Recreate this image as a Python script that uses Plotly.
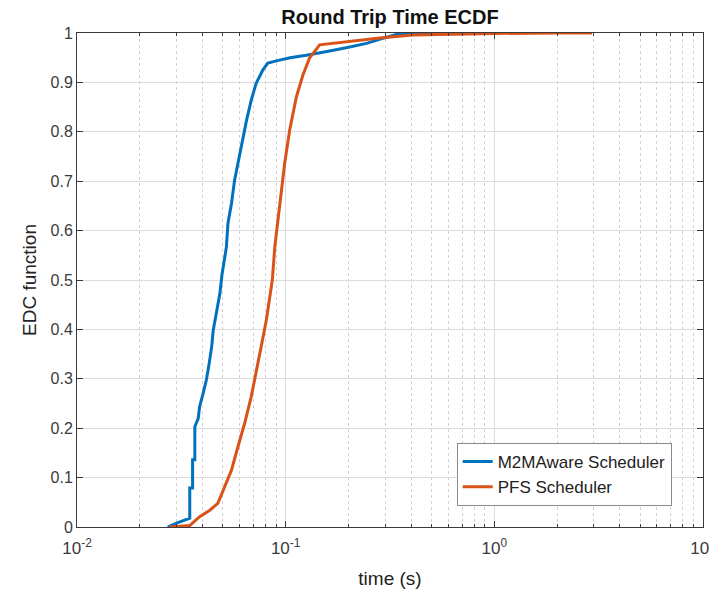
import plotly.graph_objects as go

# ---- data ----
m2m_time = [0.0272, 0.0300, 0.0347, 0.0347, 0.0358, 0.0358, 0.0367, 0.0367, 0.0381,
            0.0387, 0.0402, 0.0417, 0.0430, 0.0442, 0.0450, 0.0467, 0.0484, 0.0495,
            0.0510, 0.0520, 0.0529, 0.0550, 0.0569, 0.0591, 0.0614, 0.0650, 0.0684,
            0.0722, 0.0777, 0.0821, 0.0935, 0.1050, 0.1256, 0.1350, 0.1600, 0.1950,
            0.2440, 0.2920, 0.3390, 0.5000, 1.0000]
m2m_ecdf = [0.000, 0.008, 0.018, 0.079, 0.079, 0.136, 0.136, 0.203, 0.220,
            0.244, 0.270, 0.298, 0.331, 0.365, 0.399, 0.433, 0.473, 0.510,
            0.540, 0.567, 0.615, 0.655, 0.702, 0.736, 0.777, 0.824, 0.864,
            0.898, 0.925, 0.939, 0.945, 0.950, 0.955, 0.957, 0.963, 0.970,
            0.979, 0.989, 0.997, 0.999, 1.000]

pfs_time = [0.0278, 0.0347, 0.0387, 0.0433, 0.0473, 0.0510, 0.0550, 0.0591, 0.0636,
            0.0684, 0.0722, 0.0763, 0.0808, 0.0838, 0.0863, 0.0887, 0.0935, 0.0989,
            0.1046, 0.1080, 0.1126, 0.1210, 0.1300, 0.1455, 0.1600, 0.1950, 0.2820,
            0.4050, 0.7000, 1.0000, 2.0000, 2.9400]
pfs_ecdf = [0.000, 0.003, 0.021, 0.034, 0.048, 0.082, 0.115, 0.163, 0.210,
            0.264, 0.311, 0.365, 0.419, 0.466, 0.500, 0.567, 0.655, 0.736,
            0.804, 0.835, 0.871, 0.915, 0.949, 0.976, 0.978, 0.981, 0.990,
            0.996, 0.998, 0.999, 1.000, 1.000]

series_names = ["M2MAware Scheduler", "PFS Scheduler"]
series_colors = ["#0072BD", "#D95319"]
x_ticks = [0.01, 0.1, 1, 10]
x_tick_labels = ["10<sup>-2</sup>", "10<sup>-1</sup>", "10<sup>0</sup>", "10<sup>1</sup>"]
x_minor_ticks = [m * d for d in (0.01, 0.1, 1) for m in range(2, 10)]
y_ticks = [0, 0.1, 0.2, 0.3, 0.4, 0.5, 0.6, 0.7, 0.8, 0.9, 1]
y_tick_labels = ["0", "0.1", "0.2", "0.3", "0.4", "0.5", "0.6", "0.7", "0.8", "0.9", "1"]

FONT = "Liberation Sans, Arial, sans-serif"
AX = "#3a3a3a"

fig = go.Figure()
fig.add_trace(go.Scatter(x=m2m_time, y=m2m_ecdf, mode="lines", name=series_names[0],
                         line=dict(color=series_colors[0], width=3)))
fig.add_trace(go.Scatter(x=pfs_time, y=pfs_ecdf, mode="lines", name=series_names[1],
                         line=dict(color=series_colors[1], width=3)))

# page body adds an 8px offset, so the figure is 8px smaller than the window
fig.update_layout(
    width=709, height=592,
    margin=dict(l=69, r=14, t=25, b=73, autoexpand=False),
    paper_bgcolor="white", plot_bgcolor="white",
    font=dict(family=FONT, size=16, color=AX),
    title=dict(text="<b>Round Trip Time ECDF</b>", x=0.5, xref="paper", xanchor="center",
               y=1 - 9 / 592, yref="container", yanchor="middle",
               font=dict(family=FONT, size=20, color="#111")),
    legend=dict(x=0.95, y=0.0425, xanchor="right", yanchor="bottom",
                bgcolor="white", bordercolor="#8a8a8a", borderwidth=1,
                font=dict(family=FONT, size=17, color="#222")),
    showlegend=True,
)

fig.update_xaxes(
    type="log", range=[-2, 1], tickvals=x_ticks, ticktext=x_tick_labels,
    showline=True, linecolor=AX, linewidth=1, mirror="allticks",
    ticks="inside", ticklen=6, tickcolor=AX,
    showgrid=True, gridcolor="#dcdcdc", gridwidth=1,
    minor=dict(tickvals=x_minor_ticks, ticks="inside", ticklen=3, tickcolor=AX,
               showgrid=True, gridcolor="#d0d0d0", griddash="dot"),
    zeroline=False, automargin=False, ticklabelstandoff=6,
    title=dict(text="time (s)", font=dict(family=FONT, size=19, color="#222"), standoff=14),
    tickfont=dict(family=FONT, size=17, color=AX),
)
fig.update_yaxes(
    range=[0, 1], tickvals=y_ticks, ticktext=y_tick_labels,
    showline=True, linecolor=AX, linewidth=1, mirror="allticks",
    ticks="inside", ticklen=6, tickcolor=AX,
    showgrid=True, gridcolor="#dcdcdc", gridwidth=1,
    zeroline=False, automargin=False,
    title=dict(text="EDC function", font=dict(family=FONT, size=19, color="#222"), standoff=8),
    tickfont=dict(family=FONT, size=16, color=AX),
)

fig.write_html("out.html")
